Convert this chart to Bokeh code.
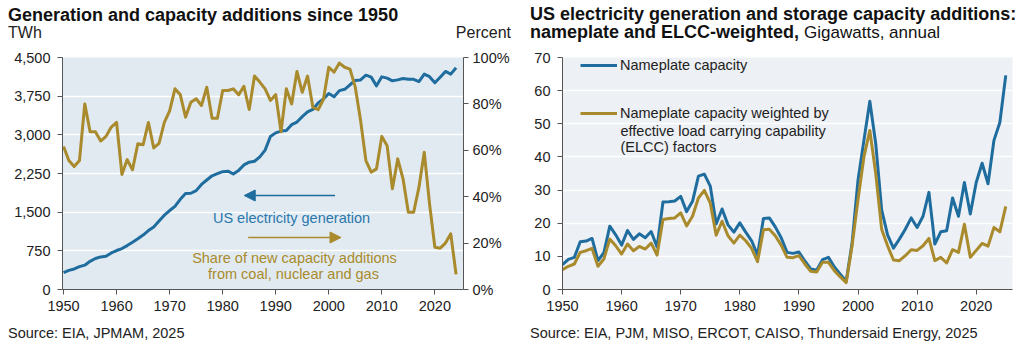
from bokeh.plotting import figure
from bokeh.models import (Range1d, LinearAxis, FixedTicker, NumeralTickFormatter,
                          PrintfTickFormatter, Label, Arrow, NormalHead, Legend, LegendItem, Div)
from bokeh.layouts import row, column
from bokeh.embed import file_html
from bokeh.resources import INLINE

FONT = "Liberation Sans"

# ---------------- data ----------------
years_gen = list(range(1950, 2025))
generation_twh = [
    329, 371, 399, 443, 472, 547, 601, 632, 645, 710,
    756, 794, 852, 917, 984, 1055, 1144, 1214, 1329, 1442,
    1532, 1613, 1750, 1861, 1867, 1918, 2038, 2124, 2206, 2247,
    2286, 2295, 2241, 2310, 2416, 2470, 2487, 2572, 2704, 2967,
    3038, 3073, 3084, 3197, 3248, 3353, 3444, 3492, 3620, 3695,
    3802, 3737, 3858, 3883, 3971, 4055, 4065, 4157, 4119, 3950,
    4125, 4100, 4048, 4066, 4094, 4078, 4077, 4034, 4178, 4128,
    4010, 4116, 4230, 4178, 4300]
share_fossil_nuclear_pct = [
    61.6, 55.6, 53.0, 55.6, 80.0, 68.0, 68.0, 64.0, 66.0, 70.0,
    72.0, 49.6, 56.0, 51.6, 62.8, 62.4, 72.0, 61.0, 63.0, 72.0,
    77.0, 86.5, 84.0, 74.3, 80.7, 82.2, 79.3, 87.2, 73.8, 73.8,
    85.8, 85.8, 86.5, 83.9, 87.6, 77.6, 92.0, 89.4, 86.5, 81.5,
    84.0, 68.0, 86.5, 80.0, 94.0, 85.0, 92.0, 78.6, 77.5, 82.0,
    95.8, 93.7, 97.6, 95.8, 95.0, 87.2, 72.8, 55.6, 50.6, 52.0,
    66.0, 62.0, 43.4, 56.3, 47.7, 33.3, 33.3, 44.0, 59.2, 36.9,
    18.2, 17.8, 20.0, 24.0, 6.5]

years_cap = list(range(1950, 2026))
nameplate_gw = [
    7.5, 9.1, 9.7, 14.4, 14.6, 15.4, 8.7, 11.1, 19.1, 16.5,
    13.4, 17.8, 15.1, 16.8, 15.6, 17.5, 12.8, 26.4, 26.5, 26.7,
    28.1, 23.5, 26.6, 34.2, 34.8, 31.2, 19.8, 24.3, 19.5, 17.3,
    20.1, 17.3, 14.7, 10.4, 21.4, 21.6, 18.9, 15.6, 11.2, 10.9,
    11.3, 8.6, 6.2, 5.8, 9.0, 9.7, 6.8, 4.6, 2.5, 14.0,
    33.0, 45.0, 56.8, 44.0, 24.0, 16.5, 12.5, 15.2, 18.2, 21.6,
    18.7, 22.1, 29.3, 13.7, 17.4, 17.7, 27.6, 22.1, 32.3, 22.8,
    32.3, 38.1, 31.9, 45.0, 50.4, 64.6]
elcc_weighted_gw = [
    6.0, 7.0, 7.7, 11.2, 11.7, 12.4, 7.0, 9.2, 15.2, 13.2,
    10.7, 13.7, 11.7, 13.0, 12.2, 14.0, 10.4, 21.1, 21.4, 21.6,
    23.1, 19.2, 22.1, 27.6, 29.9, 26.1, 16.4, 20.6, 16.2, 14.0,
    16.4, 14.7, 12.4, 8.4, 18.0, 18.2, 16.2, 13.4, 9.7, 9.6,
    10.2, 7.7, 5.5, 5.3, 8.2, 8.2, 5.7, 3.8, 2.1, 13.2,
    27.1, 40.0, 48.0, 35.0, 18.2, 13.2, 8.9, 8.7, 10.2, 12.0,
    11.8, 13.2, 15.4, 8.7, 9.7, 8.0, 12.0, 11.2, 19.7, 9.7,
    11.8, 13.9, 13.1, 18.7, 17.4, 25.1]

gen_ticks = [0, 750, 1500, 2250, 3000, 3750, 4500]
pct_ticks = [0, 20, 40, 60, 80, 100]
year_ticks = [1950, 1960, 1970, 1980, 1990, 2000, 2010, 2020]
gw_ticks = [0, 10, 20, 30, 40, 50, 60, 70]

# ---------------- styles ----------------
BLUE = "#1f6d9e"
GOLD = "#a98a2c"
TXT = "#222222"
AX = "#555555"
FS = "14.5px"

HEAD_H = 44      # page y where the figures start
FOOT_Y = 318     # page y where the figures end


def style_axis(ax):
    ax.axis_line_color = AX
    ax.major_tick_line_color = AX
    ax.minor_tick_line_color = None
    ax.major_tick_in = 0
    ax.major_tick_out = 5
    ax.major_label_text_font = FONT
    ax.major_label_text_font_size = FS
    ax.major_label_text_color = TXT


def make_label_fn(p, f_l, f_b):
    # screen units are measured from the frame's left edge and bottom edge
    def lab(x, y, text, size=FS, color=TXT, style="normal", align="left", base="alphabetic"):
        p.add_layout(Label(x=x - f_l, y=f_b - y, x_units="screen", y_units="screen",
                           text=text, text_font=FONT, text_font_size=size,
                           text_color=color, text_font_style=style, text_align=align,
                           text_baseline=base))
    return lab


def span(left, baseline, size, inner, bold=False, color=TXT, right=None):
    top = baseline - 0.905 * size
    pos = f"right:{right}px;" if right is not None else f"left:{left}px;"
    weight = "bold" if bold else "normal"
    return (f'<div style="position:absolute;{pos}top:{top:.1f}px;font-size:{size}px;'
            f'font-weight:{weight};color:{color};white-space:nowrap;line-height:normal;">{inner}</div>')


def box(inner, h):
    return (f'<div style="position:relative;width:512px;height:{h}px;'
            f'font-family:\'{FONT}\',Arial,sans-serif;">{inner}</div>')


# ================= LEFT CHART =================
LX0, LX1 = 1949.8, 2025.4
LF_L, LF_R, LF_T, LF_B = 62, 468, 57, 289
p1 = figure(width=512, height=FOOT_Y - HEAD_H, x_range=Range1d(LX0, LX1), y_range=Range1d(0, 4500),
            output_backend="svg", toolbar_location=None,
            min_border_left=LF_L, min_border_right=512 - LF_R,
            min_border_top=LF_T - HEAD_H, min_border_bottom=FOOT_Y - LF_B)
p1.extra_y_ranges = {"pct": Range1d(0, 100)}
p1.background_fill_color = "#e1eaf1"
p1.border_fill_color = "white"
p1.outline_line_color = None

p1.xaxis.ticker = FixedTicker(ticks=year_ticks)
p1.xaxis.formatter = PrintfTickFormatter(format="%d")
p1.yaxis.ticker = FixedTicker(ticks=gen_ticks)
p1.yaxis.formatter = NumeralTickFormatter(format="0,0")
style_axis(p1.xaxis[0])
style_axis(p1.yaxis[0])
p1.xaxis.major_label_standoff = 6
p1.yaxis.major_label_standoff = 7

ax_r = LinearAxis(y_range_name="pct", ticker=FixedTicker(ticks=pct_ticks),
                  formatter=PrintfTickFormatter(format="%d%%"))
style_axis(ax_r)
ax_r.major_label_standoff = 4
p1.add_layout(ax_r, "right")

p1.xgrid.visible = False
p1.ygrid.ticker = FixedTicker(ticks=gen_ticks)
p1.ygrid.grid_line_color = "white"
p1.ygrid.grid_line_width = 1.5

p1.line(years_gen, generation_twh, line_color=BLUE, line_width=3, line_join="round")
p1.line(years_gen, share_fossil_nuclear_pct, y_range_name="pct",
        line_color=GOLD, line_width=3, line_join="round")


def lx(px):
    return LX0 + (px - LF_L) * (LX1 - LX0) / (LF_R - LF_L)


def ly(py):
    return (LF_B - py) * 4500.0 / (LF_B - LF_T)


lab1 = make_label_fn(p1, LF_L, LF_B)
lab1(291, 217, "US electricity generation", color="#2a78ad", align="center", base="middle")
lab1(294, 257, "Share of new capacity additions", color=GOLD, align="center", base="middle")
lab1(293, 273, "from coal, nuclear and gas", color=GOLD, align="center", base="middle")

p1.add_layout(Arrow(end=NormalHead(size=11, fill_color=BLUE, line_color=BLUE),
                    x_start=lx(338), y_start=ly(195), x_end=lx(246), y_end=ly(195),
                    line_color=BLUE, line_width=1.5))
p1.add_layout(Arrow(end=NormalHead(size=11, fill_color=GOLD, line_color=GOLD),
                    x_start=lx(250), y_start=ly(237), x_end=lx(344), y_end=ly(237),
                    line_color=GOLD, line_width=1.5))

# ================= RIGHT CHART =================
RX0, RX1 = 1950.0, 2026.14
RF_L, RF_R, RF_T, RF_B = 50, 500, 56, 291
p2 = figure(width=512, height=FOOT_Y - HEAD_H, x_range=Range1d(RX0, RX1), y_range=Range1d(0, 70),
            output_backend="svg", toolbar_location=None,
            min_border_left=RF_L, min_border_right=512 - RF_R,
            min_border_top=RF_T - HEAD_H, min_border_bottom=FOOT_Y - RF_B)
p2.background_fill_color = "#edf0f4"
p2.border_fill_color = "white"
p2.outline_line_color = None

p2.xaxis.ticker = FixedTicker(ticks=year_ticks)
p2.xaxis.formatter = PrintfTickFormatter(format="%d")
p2.yaxis.ticker = FixedTicker(ticks=gw_ticks)
style_axis(p2.xaxis[0])
style_axis(p2.yaxis[0])
p2.xaxis.major_label_standoff = 6
p2.yaxis.major_label_standoff = 7
p2.xgrid.visible = False
p2.ygrid.ticker = FixedTicker(ticks=gw_ticks)
p2.ygrid.grid_line_color = "white"
p2.ygrid.grid_line_width = 1.5

r_name = p2.line(years_cap, nameplate_gw, line_color=BLUE, line_width=3, line_join="round")
r_elcc = p2.line(years_cap, elcc_weighted_gw, line_color=GOLD, line_width=3, line_join="round")

legend = Legend(items=[LegendItem(label="Nameplate capacity", renderers=[r_name]),
                       LegendItem(label="Nameplate capacity weighted by", renderers=[r_elcc])],
                location=(18, 166), orientation="vertical",
                background_fill_alpha=0, border_line_color=None,
                padding=0, margin=0, spacing=28,
                glyph_width=37, glyph_height=20, label_height=20, label_standoff=3,
                label_text_font=FONT, label_text_font_size=FS, label_text_color=TXT)
p2.add_layout(legend)

lab2 = make_label_fn(p2, RF_L, RF_B)
lab2(108, 132, "effective load carrying capability", base="middle")
lab2(108, 148, "(ELCC) factors", base="middle")

# ================= headers & footers (HTML text) =================
head_left = box(
    span(8, 21, 18, "Generation and capacity additions since 1950", bold=True, color="#111111")
    + span(8, 38, 16, "TWh")
    + span(None, 38, 16, "Percent", right=1), HEAD_H)
head_right = box(
    span(18, 20, 18, "US electricity generation and storage capacity additions:", bold=True, color="#111111")
    + span(18, 38, 18, '<b>nameplate and ELCC-weighted,</b> '
           '<span style="font-weight:normal;font-size:17px;">Gigawatts, annual</span>', color="#111111"),
    HEAD_H)
foot_h = 352 - FOOT_Y
foot_left = box(span(8, 338 - FOOT_Y, 14.5, "Source: EIA, JPMAM, 2025"), foot_h)
foot_right = box(span(18, 338 - FOOT_Y, 14.5,
                      "Source: EIA, PJM, MISO, ERCOT, CAISO, Thundersaid Energy, 2025"), foot_h)


def div(html, h):
    return Div(text=html, width=512, height=h, margin=0, sizing_mode="fixed")


layout = column(
    row(div(head_left, HEAD_H), div(head_right, HEAD_H), spacing=0),
    row(p1, p2, spacing=0),
    row(div(foot_left, foot_h), div(foot_right, foot_h), spacing=0),
    spacing=0)
open("out.html", "w").write(file_html(layout, INLINE))
